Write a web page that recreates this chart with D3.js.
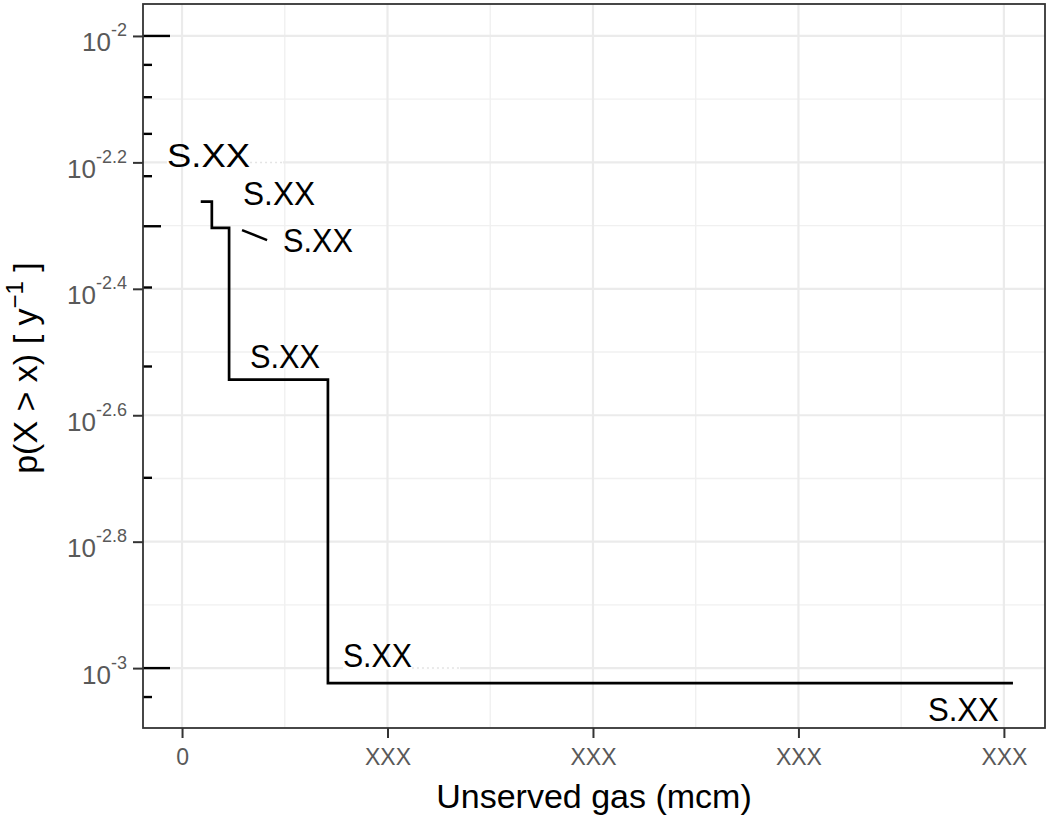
<!DOCTYPE html>
<html>
<head>
<meta charset="utf-8">
<script src="https://cdn.jsdelivr.net/npm/d3@7"></script>
<style>
    body { margin: 0; background: #fff; }
    svg { display: block; font-family: 'Liberation Sans', Arial, sans-serif; }
</style>
</head>
<body>
<svg></svg>
<script>
// exceedance curve
const STEP_X = [0.091, 0.145, 0.229, 0.710, 4.044];
const STEP_P = [0.00547, 0.00497, 0.00286, 0.000947, 0.000947];

const X_TICKS = [0, 1, 2, 3, 4];
const X_TICK_LABELS = ['0', 'XXX', 'XXX', 'XXX', 'XXX'];
const Y_TICK_EXP = [-2, -2.2, -2.4, -2.6, -2.8, -3];
const Y_TICK_LABELS = ['-2', '-2.2', '-2.4', '-2.6', '-2.8', '-3'];
const LOG_TICKS = [0.0009, 0.001, 0.002, 0.003, 0.004, 0.005, 0.006, 0.007, 0.008, 0.009, 0.01];

// repelled text labels (text start, baseline)
const LABEL_TEXT = ['S.XX', 'S.XX', 'S.XX', 'S.XX', 'S.XX', 'S.XX'];
const LABEL_X = [-0.073, 0.297, 0.491, 0.331, 0.783, 3.630];
const LABEL_P = [0.006204, 0.00540, 0.00455, 0.002983, 0.0010037, 0.0008245];
const LABEL_WIDTH = [83, 72, 70, 70, 69, 71];
const SEGMENT_X = [0.292, 0.414];
const SEGMENT_P = [0.00493, 0.004755];

// gridline pieces hidden behind the (edited) labels
const HIDDEN_GRID = [
    { p: Math.pow(10, -2.2), x0: -0.073, x1: 0.491, dotFrom: 0.331 },
    { p: 0.001, x0: 0.783, x1: 1.353, dotFrom: 1.119 },
];

const WIDTH = 1047;
const HEIGHT = 816;
const PANEL = { left: 143, right: 1045, top: 4, bottom: 728 };

const x = d3.scaleLinear().domain([-0.19, 4.2]).range([PANEL.left, PANEL.right]);
const y = d3.scaleLog().domain([8.04e-4, 1.1234e-2]).range([PANEL.bottom, PANEL.top]);

const svg = d3.select('svg').attr('width', WIDTH).attr('height', HEIGHT);

svg.append('rect')
    .attr('width', WIDTH)
    .attr('height', HEIGHT)
    .attr('fill', '#fff');

const grid = svg.append('g');

// minor grid
const xMinor = X_TICKS.slice(1).map((d, i) => (d + X_TICKS[i]) / 2);
const yMinor = Y_TICK_EXP.slice(1).map((d, i) => Math.pow(10, (d + Y_TICK_EXP[i]) / 2));

grid.selectAll('.vminor')
    .data(xMinor)
    .enter()
    .append('line')
    .attr('x1', (d) => x(d)).attr('x2', (d) => x(d))
    .attr('y1', PANEL.top).attr('y2', PANEL.bottom)
    .attr('stroke', '#f0f0f0')
    .attr('stroke-width', 1.4);

grid.selectAll('.hminor')
    .data(yMinor)
    .enter()
    .append('line')
    .attr('x1', PANEL.left).attr('x2', PANEL.right)
    .attr('y1', (d) => y(d)).attr('y2', (d) => y(d))
    .attr('stroke', '#f0f0f0')
    .attr('stroke-width', 1.4);

// major grid
grid.selectAll('.vmajor')
    .data(X_TICKS)
    .enter()
    .append('line')
    .attr('x1', (d) => x(d)).attr('x2', (d) => x(d))
    .attr('y1', PANEL.top).attr('y2', PANEL.bottom)
    .attr('stroke', '#ebebeb')
    .attr('stroke-width', 2.2);

grid.selectAll('.hmajor')
    .data(Y_TICK_EXP)
    .enter()
    .append('line')
    .attr('x1', PANEL.left).attr('x2', PANEL.right)
    .attr('y1', (d) => y(Math.pow(10, d))).attr('y2', (d) => y(Math.pow(10, d)))
    .attr('stroke', '#ebebeb')
    .attr('stroke-width', 2.2);

HIDDEN_GRID.forEach((h) => {
    grid.append('line')
        .attr('x1', x(h.x0)).attr('x2', x(h.x1))
        .attr('y1', y(h.p)).attr('y2', y(h.p))
        .attr('stroke', '#fff')
        .attr('stroke-width', 3);
    grid.append('line')
        .attr('x1', x(h.dotFrom)).attr('x2', x(h.x1))
        .attr('y1', y(h.p)).attr('y2', y(h.p))
        .attr('stroke', '#e4e4e4')
        .attr('stroke-width', 1.5)
        .attr('stroke-dasharray', '2,3');
});

// step line
const stepData = STEP_X.map((d, i) => ({ x: d, p: STEP_P[i] }));
const stepLine = d3.line()
    .x((d) => x(d.x))
    .y((d) => y(d.p))
    .curve(d3.curveStepAfter);

svg.append('path')
    .datum(stepData)
    .attr('d', stepLine)
    .attr('fill', 'none')
    .attr('stroke', '#000')
    .attr('stroke-width', 2.7);

// log ticks on the left side
svg.append('g')
    .selectAll('line')
    .data(LOG_TICKS)
    .enter()
    .append('line')
    .attr('x1', PANEL.left)
    .attr('x2', (d) => {
        const m = Math.round(d / Math.pow(10, Math.floor(Math.log10(d) + 1e-9)));
        if (m === 1) return PANEL.left + 27;
        if (m === 5) return PANEL.left + 18;
        return PANEL.left + 9;
    })
    .attr('y1', (d) => y(d)).attr('y2', (d) => y(d))
    .attr('stroke', '#000')
    .attr('stroke-width', 2.4);

// labels
svg.append('g')
    .selectAll('text')
    .data(LABEL_TEXT)
    .enter()
    .append('text')
    .attr('x', (d, i) => x(LABEL_X[i]))
    .attr('y', (d, i) => y(LABEL_P[i]))
    .attr('font-size', 33)
    .attr('textLength', (d, i) => LABEL_WIDTH[i])
    .attr('lengthAdjust', 'spacingAndGlyphs')
    .attr('fill', '#000')
    .text((d) => d);

svg.append('line')
    .attr('x1', x(SEGMENT_X[0])).attr('y1', y(SEGMENT_P[0]))
    .attr('x2', x(SEGMENT_X[1])).attr('y2', y(SEGMENT_P[1]))
    .attr('stroke', '#000')
    .attr('stroke-width', 2.4);

// panel border
svg.append('rect')
    .attr('x', PANEL.left)
    .attr('y', PANEL.top)
    .attr('width', PANEL.right - PANEL.left)
    .attr('height', PANEL.bottom - PANEL.top)
    .attr('fill', 'none')
    .attr('stroke', '#333')
    .attr('stroke-width', 1.8);

// x axis
const xAxis = svg.append('g')
    .attr('transform', `translate(0, ${PANEL.bottom})`)
    .call(d3.axisBottom(x)
        .tickValues(X_TICKS)
        .tickFormat((d, i) => X_TICK_LABELS[i])
        .tickSize(10)
        .tickPadding(11));
xAxis.select('.domain').remove();
xAxis.selectAll('.tick line').attr('stroke', '#333').attr('stroke-width', 2);
xAxis.selectAll('.tick text')
    .attr('fill', '#595959')
    .attr('font-size', 23)
    .attr('font-family', 'Liberation Sans, Arial, sans-serif');

// y axis
const yAxis = svg.append('g')
    .attr('transform', `translate(${PANEL.left}, 0)`)
    .call(d3.axisLeft(y)
        .tickValues(Y_TICK_EXP.map((e) => Math.pow(10, e)))
        .tickFormat(() => '')
        .tickSize(10));
yAxis.select('.domain').remove();
yAxis.selectAll('.tick line').attr('stroke', '#333').attr('stroke-width', 2);
yAxis.selectAll('.tick text').each(function (d, i) {
    const t = d3.select(this)
        .text(null)
        .attr('x', -16)
        .attr('dy', null)
        .attr('y', 15)
        .attr('fill', '#595959')
        .attr('text-anchor', 'end')
        .attr('font-family', 'Liberation Sans, Arial, sans-serif');
    t.append('tspan').attr('font-size', 26).text('10');
    t.append('tspan').attr('font-size', 18).attr('dy', -15).text(Y_TICK_LABELS[i]);
});

// axis titles
svg.append('text')
    .attr('x', (PANEL.left + PANEL.right) / 2)
    .attr('y', 808)
    .attr('text-anchor', 'middle')
    .attr('font-size', 34)
    .attr('fill', '#000')
    .text('Unserved gas (mcm)');

const yTitle = svg.append('text')
    .attr('transform', `translate(37, ${(PANEL.top + PANEL.bottom) / 2 + 2}) rotate(-90)`)
    .attr('text-anchor', 'middle')
    .attr('font-size', 34)
    .attr('fill', '#000');
yTitle.append('tspan').text('p(X > x) [ y');
yTitle.append('tspan').attr('font-size', 24).attr('dy', -14).text('\u22121');
yTitle.append('tspan').attr('dy', 14).text(' ]');
</script>
</body>
</html>
